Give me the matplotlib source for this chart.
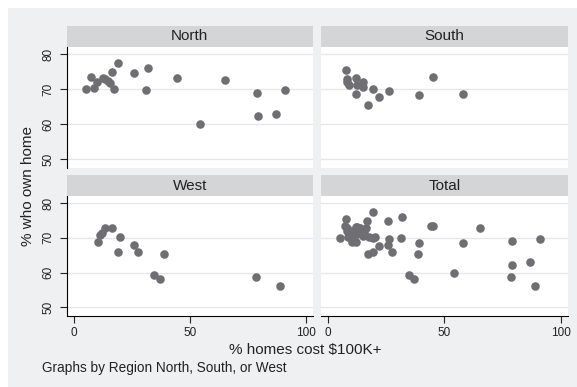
import matplotlib
matplotlib.use('Agg')
import matplotlib.pyplot as plt
from matplotlib.patches import Rectangle

plt.rcParams['font.family'] = ['Liberation Sans', 'DejaVu Sans']

# % homes cost $100K+ (x) vs % who own home (y), by region
NORTH_X = [5.2, 7.3, 8.6, 10.1, 12.4, 13.5, 14.8, 15.5, 16.5, 17.4, 19.1,
           25.9, 31.9, 31.2, 44.3, 54.2, 65.3, 79.1, 79.3, 87.0, 91.1]
NORTH_Y = [70.0, 73.5, 70.2, 71.9, 73.1, 72.8, 72.2, 71.6, 74.9, 70.1, 77.4,
           74.7, 76.0, 69.8, 73.3, 60.0, 72.7, 69.0, 62.3, 62.9, 69.7]

SOUTH_X = [7.5, 7.9, 8.2, 9.1, 11.8, 12.3, 15.1, 14.8, 12.0, 19.3, 17.3,
           21.9, 26.1, 39.1, 45.0, 57.8]
SOUTH_Y = [75.3, 72.8, 71.9, 71.2, 73.2, 71.1, 71.9, 70.5, 68.7, 69.9, 65.4,
           67.7, 69.5, 68.4, 73.5, 68.5]

WEST_X = [10.2, 11.2, 12.0, 13.4, 16.3, 20.0, 19.1, 25.8, 27.5, 38.8, 34.7,
          37.0, 78.5, 88.8]
WEST_Y = [68.9, 70.7, 71.5, 72.7, 72.8, 70.1, 66.0, 67.9, 65.9, 65.4, 59.4,
          58.1, 58.6, 56.0]

PANELS = ['North', 'South', 'West', 'Total']
X_TICKS = [0, 50, 100]
Y_TICKS = [50, 60, 70, 80]

BG = '#eff0f2'
HEADER = '#d4d5d7'
MARKER = '#6e6e73'
GRID = '#e6e6e8'

W, H = 577, 387


def rect(x0, y0, x1, y1):
    """pixel box (top-left origin) -> figure fraction rect"""
    return [x0 / W, 1 - y1 / H, (x1 - x0) / W, (y1 - y0) / H]


data = {
    'North': (NORTH_X, NORTH_Y),
    'South': (SOUTH_X, SOUTH_Y),
    'West': (WEST_X, WEST_Y),
    'Total': (NORTH_X + SOUTH_X + WEST_X, NORTH_Y + SOUTH_Y + WEST_Y),
}

fig = plt.figure(figsize=(W / 100, H / 100), dpi=100, facecolor='white')
fig.add_artist(Rectangle((8 / W, 0), 1 - 8 / W, 1 - 8 / H,
                         transform=fig.transFigure, facecolor=BG,
                         edgecolor='none', zorder=-10))

cols = [(67, 312.7), (321.3, 567.5)]
rows = [(26, 47, 168), (175, 196, 316)]

for i, name in enumerate(PANELS):
    r, c = divmod(i, 2)
    x0, x1 = cols[c]
    htop, ptop, pbot = rows[r]

    hax = fig.add_axes(rect(x0, htop, x1, ptop))
    hax.set_facecolor(HEADER)
    hax.set_xticks([])
    hax.set_yticks([])
    for s in hax.spines.values():
        s.set_visible(False)
    hax.text(0.5, 0.5, name, ha='center', va='center', fontsize=11,
             color='#222222', transform=hax.transAxes)

    ax = fig.add_axes(rect(x0, ptop, x1, pbot))
    xs, ys = data[name]
    ax.scatter(xs, ys, s=38, color=MARKER, linewidths=0, zorder=3)
    ax.set_xlim(-3, 103)
    ax.set_ylim(47.5, 82)
    ax.set_xticks(X_TICKS)
    ax.set_yticks(Y_TICKS)
    ax.grid(axis='y', color=GRID, lw=0.9)
    ax.set_axisbelow(True)
    for s in ('top', 'right'):
        ax.spines[s].set_visible(False)
    ax.tick_params(length=5, width=0.8, labelsize=8.5, color='#222222',
                   labelcolor='#222222')
    ax.tick_params(axis='x', pad=3)
    ax.tick_params(axis='y', pad=4, labelrotation=90)
    for lab in ax.get_yticklabels():
        lab.set_va('center')

    if c == 1:
        ax.spines['left'].set_visible(False)
        ax.tick_params(axis='y', left=False, labelleft=False)
    if r == 0:
        ax.spines['bottom'].set_visible(False)
        ax.tick_params(axis='x', bottom=False, labelbottom=False)
    ax.spines['left'].set_linewidth(0.8)
    ax.spines['bottom'].set_linewidth(0.8)

fig.text(28 / W, 1 - 186 / H, '% who own home', rotation=90,
         ha='center', va='center', fontsize=11, color='#222222')
fig.text(305 / W, 1 - 354 / H, '% homes cost \\$100K+', ha='center',
         va='baseline', fontsize=11, color='#222222')
fig.text(41.7 / W, 1 - 372 / H, 'Graphs by Region North, South, or West',
         ha='left', va='baseline', fontsize=9.8, color='#222222')

fig.savefig('out.png', dpi=100, facecolor='white')
